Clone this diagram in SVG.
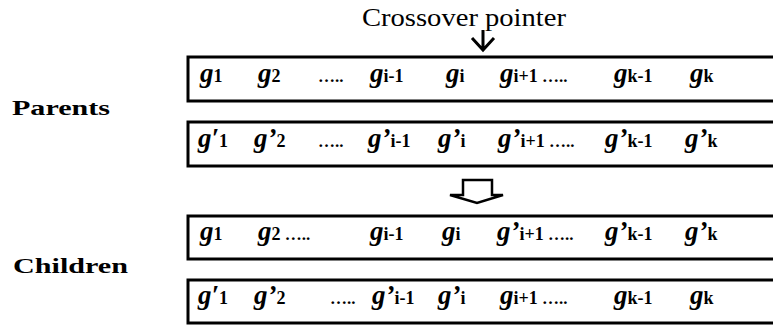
<svg xmlns="http://www.w3.org/2000/svg" width="773" height="328" viewBox="0 0 773 328">
<style>
text{font-family:"Liberation Serif","Times New Roman",serif;fill:#000}
.box{fill:#fff;stroke:#000;stroke-width:3}
.g{font-weight:bold;font-style:italic;font-size:27px}
.s{font-weight:bold;font-size:18px}
.d{font-weight:bold;font-size:17px}
.lbl{font-weight:bold;font-size:22px}
.title{font-size:25px}
.conn{fill:none;stroke:#000;stroke-width:3}
.hollow{fill:#fff;stroke:#000;stroke-width:2.5}
</style>
<rect width="773" height="328" fill="#fff"/>
<g id="title"><text class="title" x="362" y="26" textLength="204" lengthAdjust="spacingAndGlyphs">Crossover pointer</text></g>
<g id="label-parents"><text class="lbl" x="12" y="115" textLength="98" lengthAdjust="spacingAndGlyphs">Parents</text></g>
<g id="label-children"><text class="lbl" x="13" y="273" textLength="115" lengthAdjust="spacingAndGlyphs">Children</text></g>

<g id="parent1">
<rect class="box" x="188" y="57" width="610" height="44"/>
<text x="200" y="82"><tspan class="g">g</tspan><tspan class="s">1</tspan></text>
<text x="258" y="82"><tspan class="g">g</tspan><tspan class="s">2</tspan></text>
<text class="d" x="318" y="82">…..</text>
<text x="370" y="82"><tspan class="g">g</tspan><tspan class="s">i-1</tspan></text>
<text x="446" y="82"><tspan class="g">g</tspan><tspan class="s">i</tspan></text>
<text x="500" y="82"><tspan class="g">g</tspan><tspan class="s">i+1</tspan><tspan class="d"> …..</tspan></text>
<text x="614" y="82"><tspan class="g">g</tspan><tspan class="s">k-1</tspan></text>
<text x="690" y="82"><tspan class="g">g</tspan><tspan class="s">k</tspan></text>
</g>

<g id="parent2">
<rect class="box" x="188" y="122" width="610" height="44"/>
<text x="198" y="147"><tspan class="g">g′</tspan><tspan class="s">1</tspan></text>
<text x="254" y="147"><tspan class="g">g’</tspan><tspan class="s">2</tspan></text>
<text class="d" x="318" y="147">…..</text>
<text x="368" y="147"><tspan class="g">g’</tspan><tspan class="s">i-1</tspan></text>
<text x="438" y="147"><tspan class="g">g’</tspan><tspan class="s">i</tspan></text>
<text x="498" y="147"><tspan class="g">g’</tspan><tspan class="s">i+1</tspan><tspan class="d"> …..</tspan></text>
<text x="605" y="147"><tspan class="g">g’</tspan><tspan class="s">k-1</tspan></text>
<text x="685" y="147"><tspan class="g">g’</tspan><tspan class="s">k</tspan></text>
</g>

<g id="child1">
<rect class="box" x="188" y="216" width="610" height="43"/>
<text x="200" y="240"><tspan class="g">g</tspan><tspan class="s">1</tspan></text>
<text x="258" y="240"><tspan class="g">g</tspan><tspan class="s">2</tspan><tspan class="d"> …..</tspan></text>
<text x="370" y="240"><tspan class="g">g</tspan><tspan class="s">i-1</tspan></text>
<text x="442" y="240"><tspan class="g">g</tspan><tspan class="s">i</tspan></text>
<text x="497" y="240"><tspan class="g">g’</tspan><tspan class="s">i+1</tspan><tspan class="d"> …..</tspan></text>
<text x="605" y="240"><tspan class="g">g’</tspan><tspan class="s">k-1</tspan></text>
<text x="685" y="240"><tspan class="g">g’</tspan><tspan class="s">k</tspan></text>
</g>

<g id="child2">
<rect class="box" x="188" y="280" width="610" height="43"/>
<text x="198" y="304"><tspan class="g">g′</tspan><tspan class="s">1</tspan></text>
<text x="254" y="304"><tspan class="g">g’</tspan><tspan class="s">2</tspan></text>
<text class="d" x="330" y="304">…..</text>
<text x="372" y="304"><tspan class="g">g’</tspan><tspan class="s">i-1</tspan></text>
<text x="438" y="304"><tspan class="g">g’</tspan><tspan class="s">i</tspan></text>
<text x="500" y="304"><tspan class="g">g</tspan><tspan class="s">i+1</tspan><tspan class="d"> …..</tspan></text>
<text x="614" y="304"><tspan class="g">g</tspan><tspan class="s">k-1</tspan></text>
<text x="690" y="304"><tspan class="g">g</tspan><tspan class="s">k</tspan></text>
</g>

<g id="connectors">
<path class="conn" d="M483,30 V50 M472,38 L483,50 L494,38"/>
<path class="hollow" d="M463,180 H492 V195 H503 L477,203 L450,195 H463 Z"/>
</g>
</svg>
